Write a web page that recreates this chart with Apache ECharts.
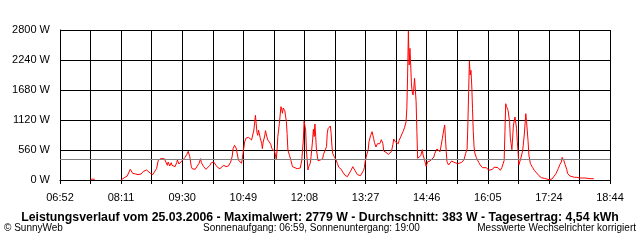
<!DOCTYPE html>
<html><head><meta charset="utf-8">
<script src="https://cdn.jsdelivr.net/npm/echarts@6/dist/echarts.min.js"></script>
<style>html,body{margin:0;padding:0;background:#fff}#c{width:640px;height:240px}</style>
</head><body><div id="c"></div>
<script>
const startTime = '06:52';
const tickLabels = ['06:52','08:11','09:30','10:49','12:08','13:27','14:46','16:05','17:24','18:44'];
const yTicks = [0, 560, 1120, 1680, 2240, 2800];
const averageW = 383;
const times = [
'07:32','07:37',null,
'08:11','08:12','08:16','08:19','08:20','08:23','08:26','08:27','08:30','08:33','08:37','08:40','08:44','08:46','08:49','08:52','08:54','08:57','08:58','08:59',
'09:02','09:04','09:07','09:09','09:11','09:12','09:14','09:16','09:17','09:19','09:21','09:23','09:24','09:26','09:28','09:30','09:31','09:34','09:36','09:38','09:40','09:42','09:43','09:45','09:47','09:49','09:52','09:54','09:55','09:58',
'10:01','10:03','10:06','10:08','10:11','10:14','10:16','10:19','10:21','10:24','10:27','10:28','10:30','10:33','10:35','10:36','10:38','10:40','10:42','10:43','10:45','10:47','10:48','10:49','10:51','10:53','10:54','10:56','10:58',
'11:00','11:01','11:03','11:05','11:06','11:07','11:08','11:09','11:11','11:13','11:14','11:15','11:17','11:18','11:20','11:21','11:23','11:25','11:26','11:28','11:30','11:32','11:33','11:34','11:36','11:38','11:39','11:40','11:41','11:43','11:44','11:45','11:46','11:47','11:49','11:51','11:53','11:55','11:59',
'12:01','12:03','12:05','12:06','12:07','12:08','12:09','12:10','12:11','12:13','12:14','12:16','12:17','12:19','12:20','12:21','12:22','12:23','12:24','12:26','12:27','12:29','12:32','12:33','12:35','12:37','12:38','12:39','12:40','12:42','12:43','12:44','12:45','12:47','12:49','12:51','12:53','12:56','12:58',
'13:01','13:04','13:06','13:09','13:11','13:14','13:17','13:19','13:21','13:23','13:25','13:26','13:27','13:29','13:31','13:32','13:34','13:36','13:38','13:39','13:41','13:43','13:45','13:46','13:48','13:50','13:51','13:54','13:57','13:59',
'14:01','14:03','14:04','14:06','14:08','14:10','14:11','14:13','14:15','14:16','14:18','14:20','14:21','14:22','14:23','14:24','14:25','14:26','14:27','14:28','14:29','14:30','14:31','14:32','14:33','14:34','14:35','14:37','14:39','14:41','14:42','14:44','14:46','14:48','14:51','14:53','14:56','14:57',
'15:00','15:02','15:04','15:05','15:07','15:09','15:10','15:11','15:12','15:13','15:15','15:16','15:19','15:22','15:24','15:27','15:29','15:32','15:35','15:37','15:39','15:40','15:41','15:42','15:43','15:44','15:45','15:46','15:47','15:48','15:49','15:51','15:54','15:56','15:59',
'16:01','16:04','16:07','16:09','16:12','16:14','16:16','16:19','16:22','16:24','16:27','16:28','16:29','16:30','16:32','16:34','16:35','16:36','16:37','16:39','16:41','16:42','16:43','16:44','16:45','16:46','16:47','16:49','16:51','16:53','16:55','16:56','16:58','16:59',
'17:01','17:04','17:06','17:09','17:12','17:15','17:19','17:22','17:25','17:29','17:31','17:34','17:35','17:37','17:39','17:41','17:42','17:44','17:46','17:48','17:49','17:52','17:54','17:58',
'18:01','18:05','18:08','18:12','18:14','18:18','18:23'
];
const watts = [
15,15,null,
0,25,50,75,112,200,125,88,112,100,112,162,187,175,125,100,112,212,280,360,
398,410,398,336,274,336,261,323,274,311,249,323,373,299,274,360,373,423,472,535,435,249,211,236,199,224,311,398,323,249,
199,199,274,323,336,274,236,211,236,274,249,236,261,336,448,585,647,597,448,373,348,311,336,498,709,784,809,797,784,
747,784,933,1207,1045,883,834,933,797,685,585,709,821,921,797,747,709,660,597,622,523,386,560,809,1058,1369,1319,1245,1344,1294,1331,1095,871,560,461,360,249,224,211,
187,224,373,560,747,1095,1132,933,560,187,249,311,435,747,946,809,1045,809,560,360,323,373,398,472,435,622,871,958,983,1008,871,635,498,435,386,311,236,199,149,
87,62,112,187,249,174,100,137,81,118,181,230,342,467,566,715,827,902,778,703,616,678,715,678,753,678,541,516,479,467,
528,665,765,715,678,678,740,803,840,902,976,1088,1338,1960,2779,2147,2458,2147,1773,1648,1587,1711,1897,1922,1462,902,405,429,454,566,467,370,255,342,355,379,429,491,
579,554,528,504,778,952,1027,778,528,342,280,317,355,330,317,304,304,330,379,491,579,1027,1648,2221,1960,2047,1773,1338,902,628,504,417,330,280,230,
230,230,181,181,200,240,255,230,181,230,367,902,1424,1375,1300,1088,778,678,566,1027,1176,1200,965,715,528,280,304,429,554,840,1238,1088,715,467,
304,230,181,131,81,44,31,19,6,19,56,118,137,211,286,336,423,373,286,199,125,75,62,50,
50,37,37,37,25,25,25
];
const title = 'Leistungsverlauf vom 25.03.2006 - Maximalwert: 2779 W - Durchschnitt: 383 W - Tagesertrag: 4,54 kWh';
const footLeft = '\u00A9 SunnyWeb';
const footMid = 'Sonnenaufgang: 06:59, Sonnenuntergang: 19:00';
const footRight = 'Messwerte Wechselrichter korrigiert';

function toMin(s){ const p = s.split(':'); return (+p[0])*60 + (+p[1]); }
const t0 = toMin(startTime);
const tEnd = toMin(tickLabels[tickLabels.length-1]);
const span = tEnd - t0;
const step = span / 18;
const data = times.map((t,i) => t === null ? [null, null] : [toMin(t) - t0, watts[i]]);

const chart = echarts.init(document.getElementById('c'), null, {renderer:'canvas'});
const font = 'Liberation Sans, Arial, sans-serif';
chart.setOption({
  animation: false,
  backgroundColor: '#ffffff',
  grid: {left: 60, right: 30, top: 30, bottom: 60, containLabel: false},
  title: {
    text: title, left: 'center', top: 207,
    textStyle: {fontFamily: font, fontSize: 12.3, fontWeight: 'bold', color: '#000'}
  },
  graphic: [
    {type:'text', left: 4, top: 223, style:{text: footLeft, font: '10px ' + font, fill:'#000'}},
    {type:'text', left: 203, top: 223, style:{text: footMid, font: '10px ' + font, fill:'#000'}},
    {type:'text', right: 4, top: 223, style:{text: footRight, font: '10px ' + font, fill:'#000'}}
  ],
  xAxis: {
    type: 'value', min: 0, max: span, interval: step,
    axisLine: {show: true, lineStyle: {color: '#000', width: 1}},
    axisTick: {show: true, length: 4, lineStyle: {color: '#000'}},
    splitLine: {show: true, lineStyle: {color: '#000', width: 1}},
    axisLabel: {
      color: '#000', fontFamily: font, fontSize: 11, margin: 12, showMinLabel: true, showMaxLabel: true,
      formatter: function(v){ const i = Math.round(v / step); return i % 2 === 0 ? tickLabels[i/2] : ''; }
    }
  },
  yAxis: {
    type: 'value', min: yTicks[0], max: yTicks[yTicks.length-1], interval: yTicks[1]-yTicks[0],
    axisLine: {show: true, lineStyle: {color: '#000', width: 1}},
    axisTick: {show: false},
    splitLine: {show: true, lineStyle: {color: '#000', width: 1}},
    axisLabel: {color: '#000', fontFamily: font, fontSize: 11, margin: 10, formatter: function(v){ return String(v) + ' W'; }}
  },
  series: [{
    type: 'line', data: data, showSymbol: false, connectNulls: false,
    lineStyle: {color: '#ff0000', width: 1}, itemStyle: {color: '#ff0000'},
    markLine: {
      silent: true, symbol: 'none', label: {show: false},
      lineStyle: {color: '#808080', width: 1, type: 'solid'},
      data: [{yAxis: averageW}]
    },
    z: 3
  }]
});
</script></body></html>
